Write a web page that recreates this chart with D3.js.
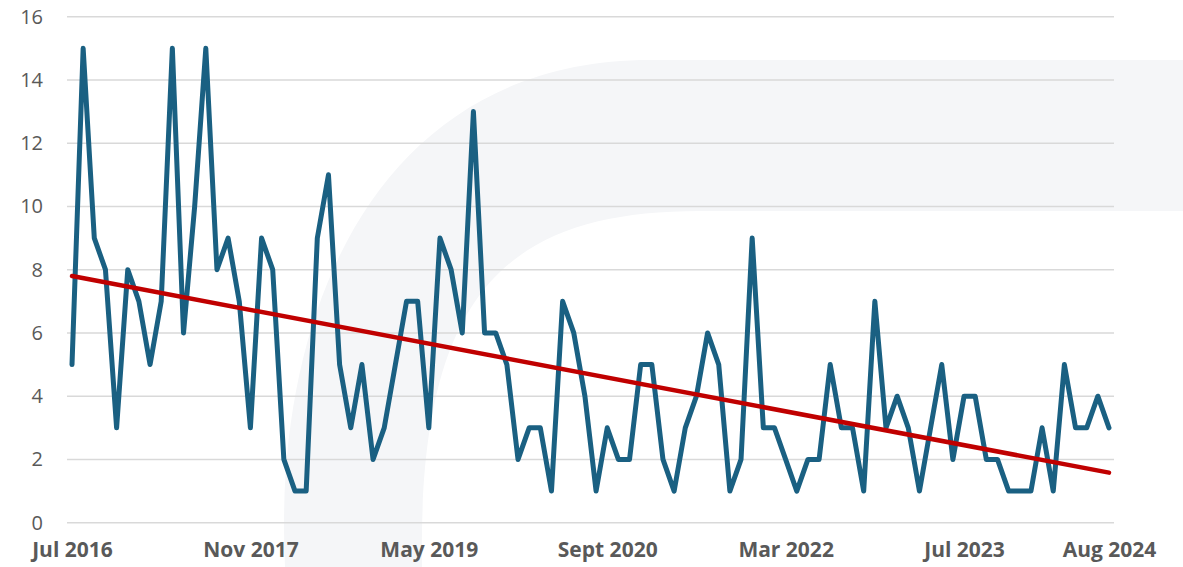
<!DOCTYPE html>
<html>
<head>
<meta charset="utf-8">
<script src="https://cdn.jsdelivr.net/npm/d3@7"></script>
<style>
  html, body { margin: 0; padding: 0; background: #fff; }
  svg { display: block; }
</style>
</head>
<body>
<svg id="chart" width="1183" height="567"></svg>
<script>
// values per period
const values = [
  5, 15, 9, 8, 3, 8, 7, 5, 7, 15, 6, 10, 15, 8, 9, 7, 3,
  9, 8, 2, 1, 1, 9, 11, 5, 3, 5, 2, 3, 5, 7, 7, 3,
  9, 8, 6, 13, 6, 6, 5, 2, 3, 3, 1, 7, 6, 4, 1, 3,
  2, 2, 5, 5, 2, 1, 3, 4, 6, 5, 1, 2, 9, 3, 3, 2, 1,
  2, 2, 5, 3, 3, 1, 7, 3, 4, 3, 1, 3, 5, 2, 4, 4, 2,
  2, 1, 1, 1, 3, 1, 5, 3, 3, 4, 3
];
const categories = d3.range(values.length);

// labelled categories on the x axis
const tickIndex = [0, 16, 32, 48, 64, 80, 93];
const tickLabels = ["Jul 2016", "Nov 2017", "May 2019", "Sept 2020", "Mar 2022", "Jul 2023", "Aug 2024"];

const yTicks = [0, 2, 4, 6, 8, 10, 12, 14, 16];

const width = 1183;
const height = 567;

const svg = d3.select("#chart");

// faint background watermark
svg.append("path")
  .attr("d", "M285,567 C272,300 385,60 650,60 L1183,60 L1183,211 L700,211 C500,211 418,300 422,567 Z")
  .attr("fill", "#f5f6f8");

const x = d3.scalePoint()
  .domain(categories)
  .range([72, 1109]);

const y = d3.scaleLinear()
  .domain([0, 16])
  .range([522.7, 16.7]);

// gridlines
svg.append("g")
  .selectAll("line")
  .data(yTicks)
  .join("line")
  .attr("x1", 67)
  .attr("x2", 1114)
  .attr("y1", (d) => y(d))
  .attr("y2", (d) => y(d))
  .attr("stroke", "#d9d9d9")
  .attr("stroke-width", 1.5);

// y axis labels
const yAxis = svg.append("g")
  .attr("transform", "translate(43,0)")
  .call(d3.axisLeft(y).tickValues(yTicks).tickSize(0).tickPadding(0));
yAxis.select(".domain").remove();
yAxis.selectAll("text")
  .style("font-family", "'Open Sans', sans-serif")
  .style("font-size", "20px")
  .style("fill", "#595959");

// x axis labels
const labelOf = new Map(tickIndex.map((d, i) => [d, tickLabels[i]]));
const xAxis = svg.append("g")
  .attr("transform", "translate(0,542)")
  .call(d3.axisBottom(x).tickValues(tickIndex).tickFormat((d) => labelOf.get(d)).tickSize(0).tickPadding(0));
xAxis.select(".domain").remove();
xAxis.selectAll("text")
  .style("font-family", "'Open Sans', sans-serif")
  .style("font-size", "21px")
  .style("font-weight", "bold")
  .style("fill", "#595959");

// data line
const line = d3.line()
  .x((d, i) => x(categories[i]))
  .y((d) => y(d));

svg.append("path")
  .datum(values)
  .attr("fill", "none")
  .attr("stroke", "#1a6082")
  .attr("stroke-width", 5)
  .attr("stroke-linejoin", "round")
  .attr("stroke-linecap", "round")
  .attr("d", line);

// linear trendline (least squares)
const n = values.length;
const mx = d3.mean(categories);
const my = d3.mean(values);
const slope = d3.sum(categories, (c, i) => (c - mx) * (values[i] - my)) / d3.sum(categories, (c) => (c - mx) ** 2);
const intercept = my - slope * mx;
const trend = [categories[0], categories[n - 1]].map((c) => ({ c, v: intercept + slope * c }));

svg.append("path")
  .datum(trend)
  .attr("fill", "none")
  .attr("stroke", "#c00000")
  .attr("stroke-width", 4.5)
  .attr("stroke-linecap", "round")
  .attr("d", d3.line().x((d) => x(d.c)).y((d) => y(d.v)));
</script>
</body>
</html>
